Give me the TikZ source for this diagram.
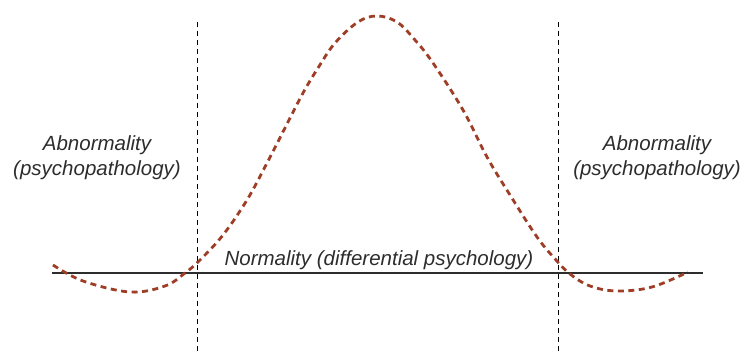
\documentclass[tikz,border=0pt]{standalone}
\usepackage{fontspec}
\setmainfont{Liberation Sans}
\definecolor{curvered}{RGB}{158,62,38}
\definecolor{textgray}{RGB}{45,45,45}

\begin{document}
\begin{tikzpicture}[x=1pt, y=-1pt,
    label/.style={text=textgray, font=\fontsize{20.5}{25}\selectfont\itshape, inner sep=0pt, align=center},
    border/.style={black, line width=1pt, dash pattern=on 5pt off 4pt},
    curve/.style={curvered, line width=2.8pt, dash pattern=on 6pt off 4.5pt}]
    \useasboundingbox (0,0) rectangle (743,355);

    % 坐标轴与两条边界
    \coordinate (axisL) at (52,273);
    \coordinate (axisR) at (703,273);
    \coordinate (b1top) at (197,22);
    \coordinate (b1bot) at (197,355);
    \coordinate (b2top) at (558,22);
    \coordinate (b2bot) at (558,355);

    \draw[textgray, line width=1.2pt] (axisL) -- (axisR);
    \draw[border] (b1top) -- (b1bot);
    \draw[border] (b2top) -- (b2bot);

    % 分布曲线
    \draw[curve] plot[smooth, tension=0.6] coordinates {
        (53,265) (83,281) (130,292) (165,286)
        (185,273) (200,260) (223,235) (247,200) (267,163) (287,124) (303,93)
        (318,68) (335,43) (358,22) (377,16) (397,22) (415,40) (433,63)
        (463,110) (487,157) (510,195) (537,237) (556,260) (570,274)
        (590,286) (617,291) (652,287) (688,272)};

    % 区域标注
    \node[label] (abnL) at (97,158) {Abnormality\\(psychopathology)};
    \node[label] (abnR) at (657,158) {Abnormality\\(psychopathology)};
    \node[label, anchor=base] (norm) at (379,265) {Normality (differential psychology)};
\end{tikzpicture}
\end{document}
